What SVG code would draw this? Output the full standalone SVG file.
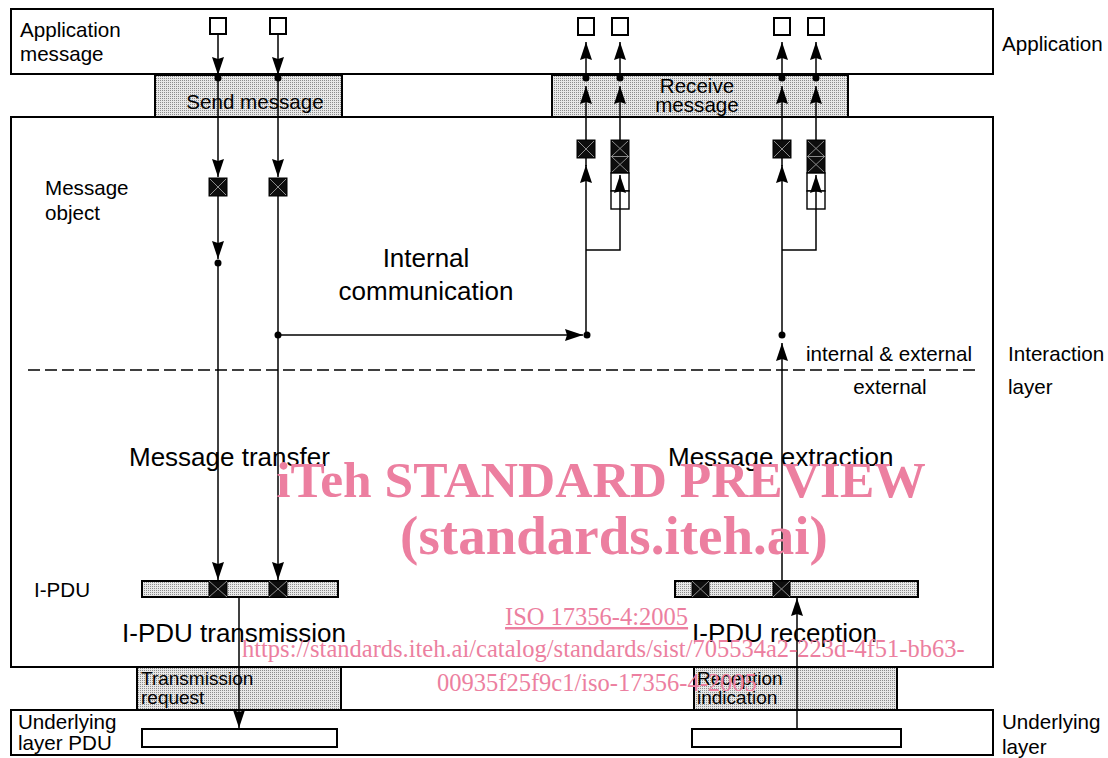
<svg xmlns="http://www.w3.org/2000/svg" width="1108" height="758" viewBox="0 0 1108 758">
<style>
text{font-family:"Liberation Sans",Arial,sans-serif;fill:#000}
.t20{font-size:20.6px}
.t19{font-size:19px}
.t26{font-size:26px}
.box{fill:#fff;stroke:#000;stroke-width:2}
.shade{fill:url(#dots);stroke:#000;stroke-width:2}
.sq{fill:#fff;stroke:#000;stroke-width:2}
.obj{fill:#0d0d0d;stroke:#000;stroke-width:1}
.x{stroke:#8a8a8a;stroke-width:1;fill:none}
.ln{stroke:#000;stroke-width:1.5;fill:none}
.arr{stroke:#000;stroke-width:1.5;fill:none;marker-end:url(#ah)}
.dot{fill:#000}
.dash{stroke:#000;stroke-width:1.5;stroke-dasharray:12 5;fill:none}
.wm{font-family:"Liberation Serif","Times New Roman",serif;fill:#ec7fa0}
</style>
<defs>
<pattern id="dots" width="2" height="2" patternUnits="userSpaceOnUse">
<rect width="2" height="2" fill="#e8e8e8"/>
<rect width="1" height="1" fill="#8c8c8c"/>
</pattern>
<marker id="ah" viewBox="-19 -7 20 14" refX="0" refY="0" markerWidth="20" markerHeight="14" markerUnits="userSpaceOnUse" orient="auto">
<path d="M0,0 L-18,-6 L-16,0 L-18,6 Z" fill="#000"/>
</marker>
</defs>

<g id="application-layer">
<rect class="box" x="11" y="9" width="982" height="65"/>
<text class="t20" x="20" y="37">Application</text>
<text class="t20" x="20" y="61">message</text>
<text class="t20" x="1002" y="51">Application</text>
</g>

<g id="interaction-layer">
<rect class="box" x="11" y="117" width="982" height="550"/>
<text class="t20" x="1008" y="361">Interaction</text>
<text class="t20" x="1008" y="394">layer</text>
<text class="t20" x="45" y="195">Message</text>
<text class="t20" x="45" y="220">object</text>
<text class="t26" x="426" y="267" text-anchor="middle">Internal</text>
<text class="t26" x="426" y="300" text-anchor="middle">communication</text>
<line class="dash" x1="28" y1="370" x2="976" y2="370"/>
<text class="t20" x="806" y="361">internal &amp; external</text>
<text class="t20" x="890" y="394" text-anchor="middle">external</text>
<text class="t26" x="129" y="466">Message transfer</text>
<text class="t26" x="668" y="466">Message extraction</text>
<text class="t20" x="34" y="597">I-PDU</text>
<text class="t26" x="122" y="642">I-PDU transmission</text>
<text class="t26" x="692" y="642">I-PDU reception</text>
</g>

<g id="underlying-layer">
<rect class="box" x="11" y="710" width="982" height="45"/>
<text class="t20" x="18" y="729">Underlying</text>
<text class="t20" x="18" y="750">layer PDU</text>
<text class="t20" x="1002" y="729">Underlying</text>
<text class="t20" x="1002" y="754">layer</text>
<rect class="box" x="142" y="729" width="195" height="18"/>
<rect class="box" x="692" y="729" width="209" height="18"/>
</g>

<g id="send-message">
<rect class="shade" x="155" y="75" width="187" height="42"/>
<text class="t20" x="255" y="109" text-anchor="middle">Send message</text>
</g>

<g id="receive-message">
<rect class="shade" x="552" y="75" width="296" height="42"/>
<text class="t20" x="697" y="93" text-anchor="middle">Receive</text>
<text class="t20" x="697" y="112" text-anchor="middle">message</text>
</g>

<g id="transmission-request">
<rect class="shade" x="137" y="667" width="204" height="43"/>
<text class="t19" x="141" y="685">Transmission</text>
<text class="t19" x="141" y="704">request</text>
</g>

<g id="reception-indication">
<rect class="shade" x="694" y="667" width="203" height="43"/>
<text class="t19" x="697" y="685">Reception</text>
<text class="t19" x="697" y="704">indication</text>
</g>

<g id="app-messages">
<rect class="sq" x="210" y="18" width="16" height="16"/>
<rect class="sq" x="270" y="18" width="16" height="16"/>
<rect class="sq" x="578" y="18" width="16" height="17"/>
<rect class="sq" x="612" y="18" width="16" height="17"/>
<rect class="sq" x="774" y="18" width="16" height="17"/>
<rect class="sq" x="808" y="18" width="16" height="17"/>
</g>

<g id="message-objects">
<g id="obj-send-1"><rect class="obj" x="209" y="178" width="18" height="18"/><path class="x" d="M210,179 L226,195 M226,179 L210,195"/></g>
<g id="obj-send-2"><rect class="obj" x="269" y="178" width="18" height="18"/><path class="x" d="M270,179 L286,195 M286,179 L270,195"/></g>
<g id="obj-recv-1"><rect class="obj" x="577" y="140" width="18" height="18"/><path class="x" d="M578,141 L594,157 M594,141 L578,157"/></g>
<g id="obj-recv-2">
<rect class="obj" x="611" y="140" width="18" height="33"/>
<path class="x" d="M612,141 L628,156 M628,141 L612,156 M612,157 L628,172 M628,157 L612,172 M611,156.5 L629,156.5"/>
<rect class="sq" x="611" y="173" width="18" height="18" style="stroke-width:1.4"/>
<rect class="sq" x="611" y="191" width="18" height="18" style="stroke-width:1.4"/>
</g>
<g id="obj-recv-3"><rect class="obj" x="773" y="140" width="18" height="18"/><path class="x" d="M774,141 L790,157 M790,141 L774,157"/></g>
<g id="obj-recv-4">
<rect class="obj" x="807" y="140" width="18" height="33"/>
<path class="x" d="M808,141 L824,156 M824,141 L808,156 M808,157 L824,172 M824,157 L808,172 M807,156.5 L825,156.5"/>
<rect class="sq" x="807" y="173" width="18" height="18" style="stroke-width:1.4"/>
<rect class="sq" x="807" y="191" width="18" height="18" style="stroke-width:1.4"/>
</g>
</g>

<g id="ipdu-tx">
<rect class="shade" x="142" y="581" width="196" height="16"/>
<rect class="obj" x="209" y="581" width="18" height="16"/><path class="x" d="M209,581 L227,597 M227,581 L209,597"/>
<rect class="obj" x="269" y="581" width="18" height="16"/><path class="x" d="M269,581 L287,597 M287,581 L269,597"/>
</g>

<g id="ipdu-rx">
<rect class="shade" x="675" y="581" width="243" height="16"/>
<rect class="obj" x="692" y="581" width="17" height="16"/><path class="x" d="M692,581 L709,597 M709,581 L692,597"/>
<rect class="obj" x="773" y="581" width="17" height="16"/><path class="x" d="M773,581 L790,597 M790,581 L773,597"/>
</g>

<g id="connectors">
<line class="arr" x1="218" y1="34" x2="218" y2="75"/>
<line class="arr" x1="218" y1="78" x2="218" y2="177"/>
<line class="arr" x1="218" y1="196" x2="218" y2="259"/>
<line class="arr" x1="218" y1="263" x2="218" y2="580"/>
<line class="arr" x1="278" y1="34" x2="278" y2="75"/>
<line class="arr" x1="278" y1="78" x2="278" y2="177"/>
<line class="ln" x1="278" y1="196" x2="278" y2="335"/>
<line class="arr" x1="278" y1="335" x2="583" y2="335"/>
<line class="arr" x1="278" y1="335" x2="278" y2="580"/>
<line class="arr" x1="586" y1="335" x2="586" y2="165"/>
<line class="ln" x1="586" y1="166" x2="586" y2="158"/>
<polyline class="ln" points="586,250 620,250 620,209"/>
<line class="arr" x1="620" y1="209" x2="620" y2="175"/>
<line class="arr" x1="586" y1="140" x2="586" y2="86"/>
<line class="arr" x1="586" y1="78" x2="586" y2="42"/>
<line class="arr" x1="620" y1="140" x2="620" y2="86"/>
<line class="arr" x1="620" y1="78" x2="620" y2="42"/>
<line class="arr" x1="782" y1="581" x2="782" y2="343"/>
<line class="arr" x1="782" y1="335" x2="782" y2="165"/>
<line class="ln" x1="782" y1="166" x2="782" y2="158"/>
<polyline class="ln" points="782,250 816,250 816,209"/>
<line class="arr" x1="816" y1="209" x2="816" y2="175"/>
<line class="arr" x1="782" y1="140" x2="782" y2="86"/>
<line class="arr" x1="782" y1="78" x2="782" y2="42"/>
<line class="arr" x1="816" y1="140" x2="816" y2="86"/>
<line class="arr" x1="816" y1="78" x2="816" y2="42"/>
<line class="arr" x1="239" y1="597" x2="239" y2="728"/>
<line class="arr" x1="797" y1="729" x2="797" y2="598"/>
<circle class="dot" cx="218" cy="78" r="3.5"/>
<circle class="dot" cx="278" cy="78" r="3.5"/>
<circle class="dot" cx="586" cy="78" r="3.5"/>
<circle class="dot" cx="620" cy="78" r="3.5"/>
<circle class="dot" cx="782" cy="78" r="3.5"/>
<circle class="dot" cx="816" cy="78" r="3.5"/>
<circle class="dot" cx="218" cy="263" r="3.5"/>
<circle class="dot" cx="278" cy="335" r="3.5"/>
<circle class="dot" cx="587" cy="335" r="3.5"/>
<circle class="dot" cx="782" cy="335" r="3.5"/>
</g>

<g id="watermark">
<text class="wm" x="601" y="497" text-anchor="middle" font-size="51.5" font-weight="bold">iTeh STANDARD PREVIEW</text>
<text class="wm" x="614" y="554" text-anchor="middle" font-size="55" font-weight="bold">(standards.iteh.ai)</text>
<text class="wm" x="505" y="625" font-size="24.5" text-decoration="underline">ISO 17356-4:2005</text>
<text class="wm" x="242" y="657" font-size="24.5">https://standards.iteh.ai/catalog/standards/sist/705534a2-223d-4f51-bb63-</text>
<text class="wm" x="437" y="691" font-size="24.5">00935f25f9c1/iso-17356-4-2005</text>
</g>
</svg>
